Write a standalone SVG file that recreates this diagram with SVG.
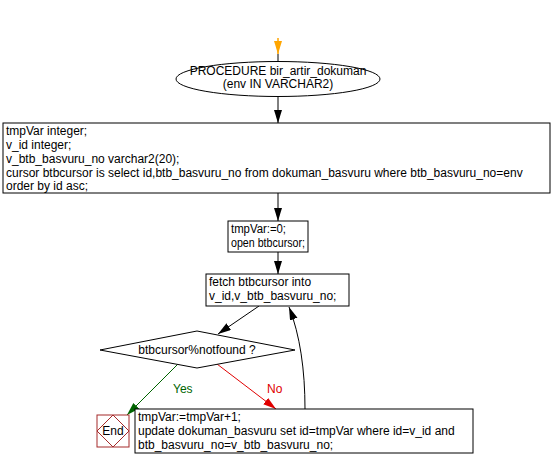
<svg xmlns="http://www.w3.org/2000/svg" width="553" height="468" viewBox="0 0 553 468">
<style>
text{font-family:"Liberation Sans",Arial,sans-serif;font-size:12px;fill:#000}
.box{fill:#fff;stroke:#000;stroke-width:1}
.ln{fill:none;stroke:#000;stroke-width:1}
</style>
<defs>
<marker id="ab" markerUnits="userSpaceOnUse" markerWidth="14" markerHeight="10" refX="13" refY="4" orient="auto"><path d="M0,0 L13,4 L0,8 z" fill="#000"/></marker>
<marker id="ao" markerUnits="userSpaceOnUse" markerWidth="14" markerHeight="10" refX="13" refY="4" orient="auto"><path d="M0,0 L13,4 L0,8 z" fill="#FFA500"/></marker>
<marker id="ag" markerUnits="userSpaceOnUse" markerWidth="14" markerHeight="10" refX="13" refY="4" orient="auto"><path d="M0,0 L13,4 L0,8 z" fill="#006400"/></marker>
<marker id="ar" markerUnits="userSpaceOnUse" markerWidth="14" markerHeight="10" refX="13" refY="4" orient="auto"><path d="M0,0 L13,4 L0,8 z" fill="#E00000"/></marker>
</defs>
<rect width="553" height="468" fill="#fff"/>
<g id="connectors">
<line x1="278" y1="38" x2="278" y2="54" stroke="#FFA500" stroke-width="1.5" marker-end="url(#ao)"/>
<line x1="278" y1="54" x2="278" y2="62" class="ln"/>
<line x1="278" y1="97" x2="278" y2="123" class="ln" marker-end="url(#ab)"/>
<line x1="278" y1="193" x2="278" y2="221" class="ln" marker-end="url(#ab)"/>
<line x1="278" y1="252" x2="278" y2="274" class="ln" marker-end="url(#ab)"/>
<line x1="259" y1="306" x2="218" y2="334" class="ln" marker-end="url(#ab)"/>
<line x1="178" y1="364" x2="127" y2="415" stroke="#006400" marker-end="url(#ag)"/>
<line x1="217" y1="364" x2="276" y2="409" stroke="#E00000" marker-end="url(#ar)"/>
<path d="M305,409 C305,370 300,335 289,307" class="ln" marker-end="url(#ab)"/>
<text x="173" y="393" style="fill:#006400">Yes</text>
<text x="267" y="393" style="fill:#E00000">No</text>
</g>
<g id="start">
<ellipse cx="278" cy="79" rx="102" ry="17.5" class="box"/>
<text x="278" y="75" text-anchor="middle">PROCEDURE bir_artir_dokuman</text>
<text x="278" y="88" text-anchor="middle">(env IN VARCHAR2)</text>
</g>
<g id="declare">
<rect x="3" y="123" width="547" height="70" class="box"/>
<text x="6" y="135">tmpVar integer;</text>
<text x="6" y="149">v_id integer;</text>
<text x="6" y="163">v_btb_basvuru_no varchar2(20);</text>
<text x="6" y="177">cursor btbcursor is select id,btb_basvuru_no from dokuman_basvuru where btb_basvuru_no=env</text>
<text x="6" y="190">order by id asc;</text>
</g>
<g id="init">
<rect x="228" y="221" width="80" height="31" class="box"/>
<text x="231" y="233" textLength="55" lengthAdjust="spacingAndGlyphs">tmpVar:=0;</text>
<text x="231" y="247" textLength="74" lengthAdjust="spacingAndGlyphs">open btbcursor;</text>
</g>
<g id="fetch">
<rect x="206" y="274" width="143" height="32" class="box"/>
<text x="209" y="286">fetch btbcursor into</text>
<text x="209" y="300">v_id,v_btb_basvuru_no;</text>
</g>
<g id="decision">
<polygon points="100,350 197,331 295,350 197,368" class="box"/>
<text x="197" y="354" text-anchor="middle">btbcursor%notfound ?</text>
</g>
<g id="end">
<rect x="97" y="415" width="32" height="32" fill="#fff" stroke="#A52A2A"/>
<polygon points="113,415 129,431 113,447 97,431" fill="none" stroke="#A52A2A"/>
<text x="113" y="435" text-anchor="middle">End</text>
</g>
<g id="update">
<rect x="135" y="409" width="338" height="44" class="box"/>
<text x="138" y="421">tmpVar:=tmpVar+1;</text>
<text x="138" y="435">update dokuman_basvuru set id=tmpVar where id=v_id and</text>
<text x="138" y="449">btb_basvuru_no=v_btb_basvuru_no;</text>
</g>
</svg>
